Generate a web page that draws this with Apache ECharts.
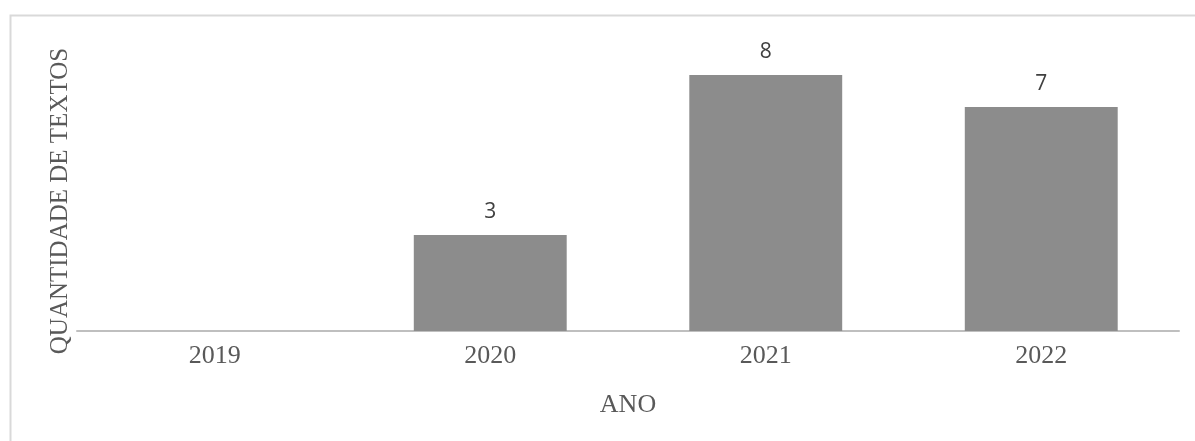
<!DOCTYPE html>
<html><head><meta charset="utf-8">
<script src="https://cdn.jsdelivr.net/npm/echarts@6/dist/echarts.min.js"></script>
<style>html,body{margin:0;padding:0;background:#fff}#c{width:1195px;height:441px}</style>
</head><body><div id="c"></div>
<script>
const categories = ['2019', '2020', '2021', '2022'];
const values = [0, 3, 8, 7];
const xTitle = 'ANO';
const yTitle = 'QUANTIDADE DE TEXTOS';

const chart = echarts.init(document.getElementById('c'), null, {renderer: 'canvas'});
chart.setOption({
  animation: false,
  backgroundColor: '#ffffff',
  graphic: [{
    type: 'rect', left: 8, top: 13, silent: true,
    shape: {width: 1200, height: 440},
    style: {fill: 'none', stroke: '#d9d9d9', lineWidth: 2}
  }, {
    type: 'text', x: 60, y: 201, rotation: Math.PI / 2, silent: true,
    style: {text: yTitle, fontFamily: 'Liberation Serif', fontSize: 25, fill: '#595959',
            align: 'center', verticalAlign: 'middle'}
  }],
  grid: {left: 77, right: 16, top: 43, bottom: 110},
  xAxis: {
    type: 'category', data: categories,
    name: xTitle, nameLocation: 'middle', nameGap: 61,
    nameTextStyle: {fontFamily: 'Liberation Serif', fontSize: 26, color: '#595959'},
    axisLine: {lineStyle: {color: '#bfbfbf', width: 2}},
    axisTick: {show: false},
    axisLabel: {fontFamily: 'Liberation Serif', fontSize: 26, color: '#595959', margin: 12}
  },
  yAxis: {
    type: 'value', min: 0, max: 9, interval: 1,
    axisLine: {show: false}, axisTick: {show: false},
    axisLabel: {show: false}, splitLine: {show: false}
  },
  series: [{
    type: 'bar', data: values, barCategoryGap: '44.5%',
    itemStyle: {color: '#8c8c8c'},
    label: {
      show: true, position: 'top', distance: 12,
      fontFamily: 'Open Sans', fontSize: 21, color: '#404040',
      formatter: p => p.value === 0 ? '' : String(p.value)
    }
  }]
});
</script></body></html>
